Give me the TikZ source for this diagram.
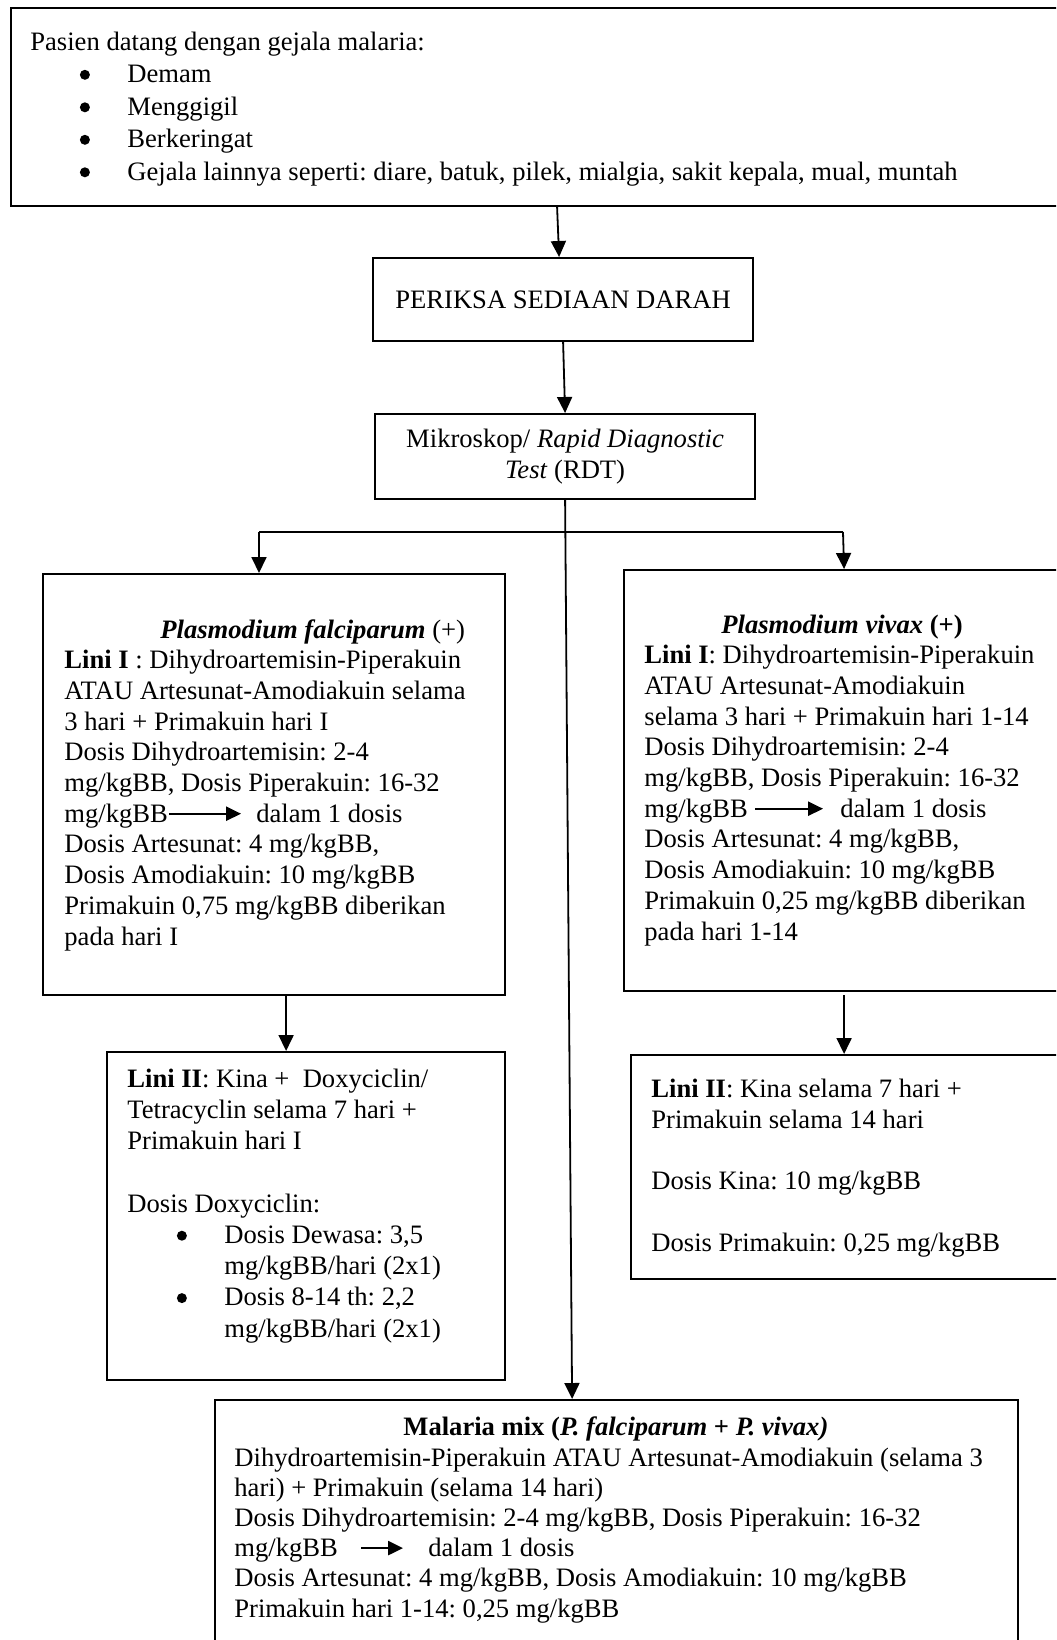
\documentclass[tikz,border=0pt]{standalone}
\usepackage{fontspec}
\setmainfont{Liberation Serif}
\usetikzlibrary{arrows.meta}
\frenchspacing
\newcommand{\bul}{\makebox[48.5pt][l]{\hspace*{24.75pt}\tikz[baseline=-3.85pt]\fill (0pt,0pt) circle (2.5pt);}}
\newcommand{\darr}[1]{\tikz[baseline=-0.32em]\draw[-{Triangle[length=7.5pt,width=7pt]},line width=1.2pt](0pt,0pt)--(#1,0pt);}

\begin{document}
\begin{tikzpicture}[x=0.5pt,y=-0.5pt,
		box/.style={draw,line width=1.1pt,inner sep=0pt,anchor=north west},
		txt/.style={anchor=base west,inner sep=0pt,align=left},
		arr/.style={-{Triangle[length=8pt,width=7.5pt]},line width=0.9pt},
		font=\fontsize{13.3}{15.35}\selectfont]
		%%%%% START %%%%%
		\useasboundingbox (0,0) rectangle (1056,1640);
		\clip (0,0) rectangle (1056,1640);
		
		% text nodes sit on the baseline of their last line
		\node[box,minimum width=532.5pt,minimum height=99pt] (gejala) at (10,7) {};
		\node[txt,font=\fontsize{13.3}{16.25}\selectfont] (gejalaTxt) at (30,180)
		{Pasien datang dengan gejala malaria:\\
			\bul Demam\\
			\bul Menggigil\\
			\bul Berkeringat\\
			\bul Gejala lainnya seperti: diare, batuk, pilek, mialgia, sakit kepala, mual, muntah};
		
		\node[box,minimum width=190pt,minimum height=41.5pt] (periksa) at (372,257) {PERIKSA SEDIAAN DARAH};
		\node[box,minimum width=190pt,minimum height=42.5pt,align=center] (rdt) at (374,413)
		{Mikroskop/ \textit{Rapid Diagnostic}\\ \textit{Test} (RDT)};
		
		\node[box,minimum width=231pt,minimum height=210.5pt] (falci) at (42,573) {};
		\node[txt] (falciTxt) at (64,945)
		{\hspace*{48pt}\textbf{\textit{Plasmodium falciparum}} (+)\\
			\textbf{Lini I} : Dihydroartemisin-Piperakuin\\
			ATAU Artesunat-Amodiakuin selama\\
			3 hari + Primakuin hari I\\
			Dosis Dihydroartemisin: 2-4\\
			mg/kgBB, Dosis Piperakuin: 16-32\\
			mg/kgBB\darr{36pt}\hspace{7pt}dalam 1 dosis\\
			Dosis Artesunat: 4 mg/kgBB,\\
			Dosis Amodiakuin: 10 mg/kgBB\\
			Primakuin 0,75 mg/kgBB diberikan\\
			pada hari I};
		
		\node[box,minimum width=220pt,minimum height=210.5pt] (vivax) at (623,569) {};
		\node[txt] (vivaxTxt) at (644,940)
		{\hspace*{38.5pt}\textbf{\textit{Plasmodium vivax} (+)}\\
			\textbf{Lini I}: Dihydroartemisin-Piperakuin\\
			ATAU Artesunat-Amodiakuin\\
			selama 3 hari + Primakuin hari 1-14\\
			Dosis Dihydroartemisin: 2-4\\
			mg/kgBB, Dosis Piperakuin: 16-32\\
			mg/kgBB\hspace{3pt}\darr{34pt}\hspace{8pt}dalam 1 dosis\\
			Dosis Artesunat: 4 mg/kgBB,\\
			Dosis Amodiakuin: 10 mg/kgBB\\
			Primakuin 0,25 mg/kgBB diberikan\\
			pada hari 1-14};
		
		\node[box,minimum width=199pt,minimum height=164pt] (falciDua) at (106,1051) {};
		\node[txt,font=\fontsize{13.3}{15.6}\selectfont] (falciDuaTxt) at (127,1337)
		{\textbf{Lini II}: Kina + \ Doxyciclin/\\
			Tetracyclin selama 7 hari +\\
			Primakuin hari I\\[15.6pt]
			Dosis Doxyciclin:\\
			\bul Dosis Dewasa: 3,5\\
			\hspace*{48.5pt}mg/kgBB/hari (2x1)\\
			\bul Dosis 8-14 th: 2,2\\
			\hspace*{48.5pt}mg/kgBB/hari (2x1)};
		
		\node[box,minimum width=220pt,minimum height=112pt] (vivaxDua) at (630,1054) {};
		\node[txt] (vivaxDuaTxt) at (651,1251)
		{\textbf{Lini II}: Kina selama 7 hari +\\
			Primakuin selama 14 hari\\[15.35pt]
			Dosis Kina: 10 mg/kgBB\\[15.35pt]
			Dosis Primakuin: 0,25 mg/kgBB};
		
		\node[box,minimum width=401.5pt,minimum height=150pt] (mix) at (214,1399) {};
		\node[txt,font=\fontsize{13.3}{15.1}\selectfont] (mixTxt) at (234,1617)
		{\makebox[381.5pt]{\textbf{Malaria mix (\textit{P. falciparum} + \textit{P. vivax)}}}\\
			Dihydroartemisin-Piperakuin ATAU Artesunat-Amodiakuin (selama 3\\
			hari) + Primakuin (selama 14 hari)\\
			Dosis Dihydroartemisin: 2-4 mg/kgBB, Dosis Piperakuin: 16-32\\
			mg/kgBB\hspace{11pt}\darr{21pt}\hspace{12pt}dalam 1 dosis\\
			Dosis Artesunat: 4 mg/kgBB, Dosis Amodiakuin: 10 mg/kgBB\\
			Primakuin hari 1-14: 0,25 mg/kgBB};
		
		% connectors
		\draw[arr] ([xshift=-3pt]periksa.north |- gejala.south) -- ([xshift=-2pt]periksa.north);
		\draw[arr] (periksa.south) -- (rdt.north);
		\draw[arr] (rdt.south) -- ([xshift=3.5pt]rdt.south |- mix.north);
		
		\coordinate (cabangKiri) at (259,532);
		\coordinate (cabangKanan) at (843,532);
		\draw[line width=0.6pt] (cabangKiri) -- (cabangKanan);
		\draw[arr] (cabangKiri) -- (cabangKiri |- falci.north);
		\draw[arr] (cabangKanan) -- (vivax.north);
		
		\draw[arr] ([xshift=6pt]falci.south) -- ([xshift=6pt]falci.south |- falciDua.north);
		\draw[arr] ([yshift=-1.5pt]vivax.south) -- (vivax.south |- vivaxDua.north);
		%%%%% END %%%%%
\end{tikzpicture}
\end{document}
